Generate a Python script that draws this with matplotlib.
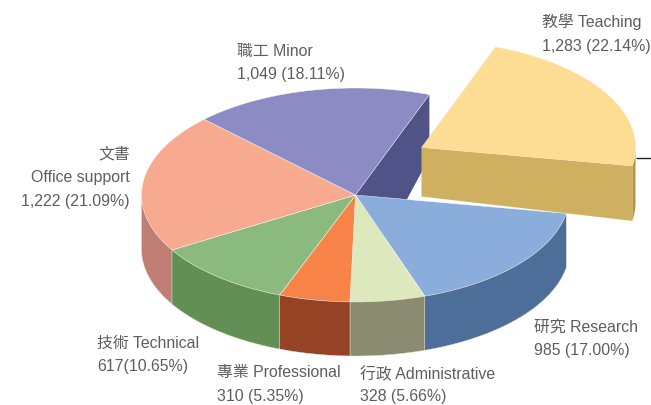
#!/usr/bin/python
import numpy as np
import matplotlib
matplotlib.use('Agg')
import matplotlib.pyplot as plt
from matplotlib.patches import Polygon

plt.rcParams['font.family'] = ['Liberation Sans', 'Noto Sans CJK TC', 'DejaVu Sans']

names = ['Teaching', 'Research', 'Administrative', 'Professional', 'Technical', 'Office support', 'Minor']
counts = [1283, 985, 328, 310, 617, 1222, 1049]
shares = [22.14, 17.00, 5.66, 5.35, 10.65, 21.09, 18.11]
top_colors = ['#FDDC94', '#8AADDB', '#DDE9BC', '#F78349', '#8ABA7E', '#F8AA90', '#8D8BC3']
wall_colors = ['#CFB060', '#4D6E99', '#8A8B70', '#964224', '#618F54', '#C07D74', '#505388']

# label text, x, y centers, alignment
labels = [
    (['教學 Teaching', '1,283 (22.14%)'], 542, [22, 46], 'left'),
    (['研究 Research', '985 (17.00%)'], 534, [327, 351], 'left'),
    (['行政 Administrative', '328 (5.66%)'], 360, [374, 397], 'left'),
    (['專業 Professional', '310 (5.35%)'], 217, [373, 397], 'left'),
    (['技術 Technical', '617(10.65%)'], 97, [343, 367], 'left'),
    (['文書', 'Office support', '1,222 (21.09%)'], 130, [154, 178, 202], 'right'),
    (['職工 Minor', '1,049 (18.11%)'], 237, [51, 74], 'left'),
]

cx, cy = 355.5, 196.0
rx, ry = 214.0, 107.0
depth = 54.0
start_angle = 69.8
offset = (66.0, -47.5)  # exploded slice


def arc(a0, a1, dx=0.0, dy=0.0):
    t = np.radians(np.linspace(a0, a1, 80))
    return np.column_stack((cx + dx + rx * np.cos(t), cy + dy - ry * np.sin(t)))


fig = plt.figure(figsize=(6.51, 4.06), dpi=100)
ax = fig.add_axes([0, 0, 1, 1])
ax.set_xlim(0, 651)
ax.set_ylim(406, 0)
ax.axis('off')

sweep = np.array(shares) / sum(shares) * 360
ends = start_angle - np.cumsum(sweep)
starts = ends + sweep

# back wall of the minor slice, seen through the gap
corner = arc(starts[0], starts[0])[0]
ax.add_patch(Polygon([(cx, cy), corner, corner + (0, 63), (cx, cy + 100)],
                     fc=wall_colors[6], ec='none', zorder=1))

# main pie
for i in range(1, 7):
    pts = arc(starts[i], ends[i])
    ax.add_patch(Polygon(np.vstack(([cx, cy], pts)), fc=top_colors[i],
                         ec='#FFFFFF', lw=0.3, zorder=2))
    # outer wall only where the rim faces the viewer
    lo, hi = max(ends[i], -180), min(starts[i], 0)
    if hi > lo:
        rim = arc(hi, lo)
        ax.add_patch(Polygon(np.vstack((rim, rim[::-1] + (0, depth))), fc=wall_colors[i],
                             ec='#E8E0D0', lw=0.3, zorder=3))

# exploded slice
dx, dy = offset
apex = np.array([cx + dx, cy + dy])
pts = arc(starts[0], ends[0], dx, dy)
end = pts[-1]
rim = arc(0, ends[0], dx, dy)
ax.add_patch(Polygon(np.vstack((rim, rim[::-1] + (0, 55))), fc='#B8953F', ec='none', zorder=4))
ax.add_patch(Polygon([apex, end, end + (0, 55), apex + (0, 49)],
                     fc=wall_colors[0], ec='none', zorder=5))
ax.add_patch(Polygon(np.vstack((apex, pts)), fc=top_colors[0], ec='#F5E6C0', lw=0.3, zorder=6))

# leader line
ax.plot([635.5, 651], [158.5, 158.5], color='#222222', lw=1, zorder=3, solid_capstyle='butt')

for lines, x, ys, ha in labels:
    for s, y in zip(lines, ys):
        ax.text(x, y, s, fontsize=11.4, color='#5E5E5E', ha=ha, va='center', zorder=7)

fig.savefig('out.png', dpi=100)
